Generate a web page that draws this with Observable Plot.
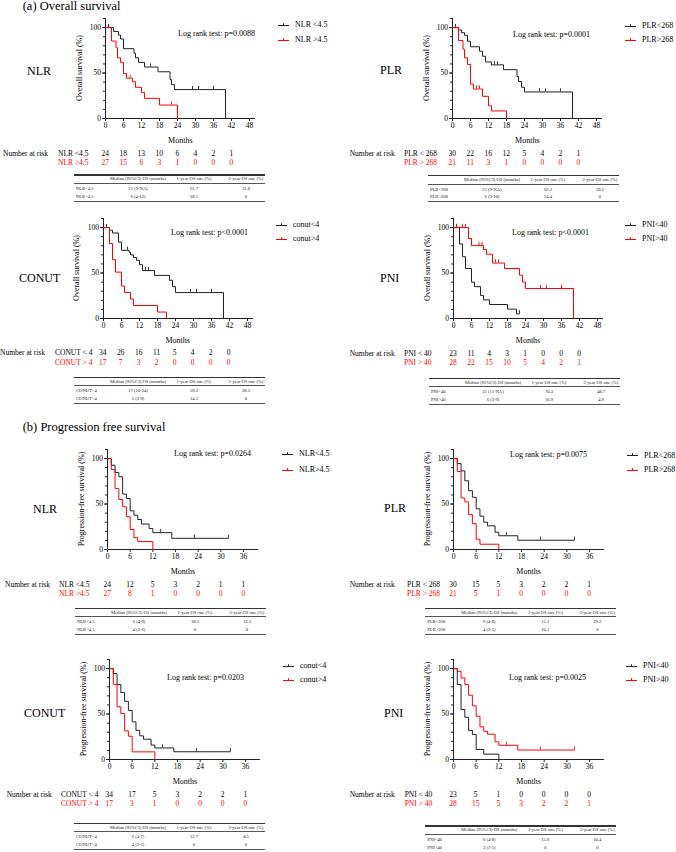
<!DOCTYPE html>
<html><head><meta charset="utf-8">
<script src="https://cdn.jsdelivr.net/npm/d3@7"></script>
<script src="https://cdn.jsdelivr.net/npm/@observablehq/plot@0.6"></script>
<style>
body{margin:0;background:#fff;}
#root{position:relative;width:676px;height:852px;font-family:"Liberation Serif","Times New Roman",serif;color:#000;overflow:hidden;background:#fff}
.t{position:absolute;white-space:nowrap;line-height:1}
.ln{position:absolute}
</style></head><body><div id="root"></div><script>
// ---------- DATA ----------
const OS_TICKS = [0,6,12,18,24,30,36,42,48];
const PFS_TICKS = [0,6,12,18,24,30,36];
const OS_RISK_T = [0,6,12,18,24,30,36,42];
const PFS_RISK_T = [0,6,12,18,24,30,36];
const tableHeader = ["Median (95%CI) OS (months)","1-year OS rate (%)","2-year OS rate (%)"];

// Overall survival curves: [month, survival %]
const osNlrLow  = [[0,100],[2.7,95.8],[4.3,91.7],[5,87.5],[6,76.8],[9.5,71.9],[10,66.8],[11,61.7],[13,56.6],[17.5,51.4],[21.5,43],[22,37.2],[23,31.8],[40,0]];
const osNlrHigh = [[0,100],[2,85.2],[3.5,77.8],[4,66.7],[5,61.8],[6,49.4],[7,44.4],[9,40.4],[10,34.3],[12,28.5],[13,22.2],[18,14.8],[24,0]];
const osNlrLowCens  = [[1,100],[15,56.6],[29,31.8],[31,31.8],[36,31.8]];
const osNlrHighCens = [[8.2,44.4],[22,14.8]];

const osPlrLow  = [[0,100],[2,97.4],[3,94.4],[4,91.5],[5,85],[6,78.9],[9,74],[10,68.5],[11,62.2],[13,59],[17,53.7],[21.5,46.3],[22,40.7],[23,34.4],[24,29.2],[40,0]];
const osPlrHigh = [[0,100],[2,85.7],[3.5,76.2],[4,66.7],[5,59.5],[6,37.8],[7,32.4],[10,24.4],[12,13.9],[13,8.3],[18,0]];
const osPlrLowCens  = [[1,100],[14,59],[15,59],[29,29.2],[31,29.2],[36,29.2]];
const osPlrHighCens = [[8,32.4],[9,32.4]];

const osConutLow  = [[0,100],[2,97.1],[3,94.1],[5,84],[6,75],[8.5,73],[9,70],[10,67],[11,64],[12,59.2],[13,52.7],[17,47.4],[22,42],[23,35],[24,28.5],[40,0]];
const osConutHigh = [[0,100],[2,82.4],[3,64.7],[4,51],[6,35.7],[7,28.6],[9,21.4],[10,14.3],[18,7.1],[21,0]];
const osConutLowCens  = [[1,100],[8,75],[14,52.7],[15,52.7],[29,28.5],[31,28.5],[36,28.5]];
const osConutHighCens = [];

const osPniLow  = [[0,100],[2,82],[3,68],[4,55],[6,40],[7,35],[9,25.4],[10,20.5],[12,15.4],[18,10.3],[21,5.1],[22,5.1]];
const osPniHigh = [[0,100],[5,88],[6,80.2],[10,75.8],[11,70.7],[13,61],[17,55],[22,47.6],[23,40.2],[24,33],[40,0]];
const osPniLowCens  = [[1,100],[22,5.1]];
const osPniHighCens = [[1,100],[3,100],[4,100],[8.5,80.2],[9.5,80.2],[14,61],[15,61],[29,33],[31,33],[36,33]];

// Progression-free survival curves
const pfsNlrLow  = [[0,100],[1,92.7],[2,84.6],[3,80],[4,61],[5,56],[6,42.5],[7,37.7],[8,33],[9,28],[11,23],[12,18.5],[17,12.3],[32,12.3]];
const pfsNlrHigh = [[0,100],[1,88],[2,67],[3,55],[4,47],[5,36],[6,22],[7,13],[8,8.7],[12,0]];
const pfsNlrLowCens  = [[14,18.5],[23,12.3],[32,12.3]];
const pfsNlrHighCens = [];

const pfsPlrLow  = [[0,100],[1,94.5],[2,86.5],[3,75.6],[4,64.7],[5,57.5],[6,44.7],[7,36.7],[8,30],[9,26],[11,19],[12,15.1],[17,10.2],[32,10.2]];
const pfsPlrHigh = [[0,100],[1,85.8],[2,56.7],[3,52.4],[4,38.5],[5,28.4],[6,11.3],[7,5.8],[12,0]];
const pfsPlrLowCens  = [[14,15.1],[23,10.2],[32,10.2]];
const pfsPlrHighCens = [];

const pfsConutLow  = [[0,100],[1,94.5],[2,82.4],[3,73.6],[4,64],[5,54],[6,41.4],[7,32],[8,26],[9,22.3],[11,15.8],[12,12.7],[17,8.5],[32,8.5]];
const pfsConutHigh = [[0,100],[1,82.4],[2,58],[3,50.5],[4,31.5],[5,25.6],[6,8.4],[12,0]];
const pfsConutLowCens  = [[14,12.7],[23,8.5],[32,8.5]];
const pfsConutHighCens = [];

const pfsPniLow  = [[0,100],[1,82.4],[2,55],[3,46.5],[4,32],[5,27.5],[6,11],[8,5.9],[12,0]];
const pfsPniHigh = [[0,100],[1,97],[2,89.7],[3,82.4],[4,70.7],[5,59],[6,47.6],[7,35.9],[8,31],[9,27.8],[11,19.4],[12,15.6],[17,10.4],[32,10.4]];
const pfsPniLowCens  = [];
const pfsPniHighCens = [[14,15.6],[23,10.4],[32,10.4]];

// Numbers at risk
const osNlrRisk = [[24,18,13,10,6,4,2,1],[27,15,6,3,1,0,0,0]];
const osPlrRisk = [[30,22,16,12,5,4,2,1],[21,11,3,1,0,0,0,0]];
const osConutRisk = [[34,26,16,11,5,4,2,0],[17,7,3,2,0,0,0,0]];
const osPniRisk = [[23,11,4,3,1,0,0,0],[28,22,15,10,5,4,2,1]];
const pfsNlrRisk = [[24,12,5,3,2,1,1],[27,8,1,0,0,0,0]];
const pfsPlrRisk = [[30,15,5,3,2,2,1],[21,5,1,0,0,0,0]];
const pfsConutRisk = [[34,17,5,3,2,2,1],[17,3,1,0,0,0,0]];
const pfsPniRisk = [[23,5,1,0,0,0,0],[28,15,5,3,2,2,1]];

// Tables
const osNlrTable = [["NLR<4.5","21  (9-NA)","61.7","31.8"],["NLR>4.5","6  (4-12)","28.5","0"]];
const osPlrTable = [["PLR<268","21  (9-NA)","62.2","29.2"],["PLR>268","6  (3-10)","24.4","0"]];
const osConutTable = [["CONUT<4","17  (10-24)","59.2","28.5"],["CONUT>4","5  (3-9)","14.3","0"]];
const osPniTable = [["PNI<40","22  (11-NA)","70.3","48.7"],["PNI>40","6  (3-9)","16.9","4.9"]];
const pfsNlrTable = [["NLR<4.5","6  (4-9)","18.5","12.3"],["NLR>4.5","4  (2-6)","0","0"]];
const pfsPlrTable = [["PLR<268","6  (4-8)","15.1","29.2"],["PLR>268","4  (2-5)","10.1","0"]];
const pfsConutTable = [["CONUT<4","6  (4-7)","12.7","8.5"],["CONUT>4","4  (2-5)","0","0"]];
const pfsPniTable = [["PNI<40","6  (4-8)","15.6","10.4"],["PNI>40","3  (2-5)","0","0"]];

// ---------- LAYOUT ----------
const RED = "#ff0000", BLK = "#222222";
const COLORS = [BLK, RED];
const root = document.getElementById("root");

function txt(s, x, y, o = {}) {
  const d = document.createElement("div");
  d.className = "t";
  d.textContent = s;
  d.style.left = x + "px";
  d.style.top = y + "px";
  d.style.fontSize = (o.size || 8) + "px";
  if (o.color) d.style.color = o.color;
  const tx = o.anchor === "middle" ? "-50%" : o.anchor === "end" ? "-100%" : "0";
  d.style.transform = o.rotate ? `translate(-50%,-50%) rotate(${o.rotate}deg)` : `translate(${tx},-50%)`;
  root.appendChild(d);
}
function hline(x, y, w, h, c) {
  const d = document.createElement("div");
  d.className = "ln";
  d.style.left = x + "px"; d.style.top = (y - h / 2) + "px";
  d.style.width = w + "px"; d.style.height = h + "px"; d.style.background = c;
  root.appendChild(d);
}
function legendMark(x, y, color) {
  const ns = "http://www.w3.org/2000/svg";
  const s = document.createElementNS(ns, "svg");
  s.setAttribute("width", 12); s.setAttribute("height", 6);
  s.style.position = "absolute"; s.style.left = x + "px"; s.style.top = (y - 3.5) + "px";
  const l = document.createElementNS(ns, "path");
  l.setAttribute("d", "M0,3.5H11M5.5,1.2V3.5");
  l.setAttribute("stroke", color); l.setAttribute("stroke-width", "1"); l.setAttribute("fill", "none");
  s.appendChild(l);
  root.appendChild(s);
}

const panels = [
  {ox:105.3, oy:118.3, os:true, name:"NLR", nameX:27, nameY:71, legX:278, legY:[25,40], leg:["NLR <4.5","NLR >4.5"], lr:"Log rank test: p=0.0088", lrX:178, lrY:34, nrX:3, serX:58, rY:[154,163], ser:["NLR <4.5","NLR >4.5"], tX:74, tY:175, curves:[osNlrLow,osNlrHigh], cens:[osNlrLowCens,osNlrHighCens], risk:osNlrRisk, table:osNlrTable},
  {ox:452.3, oy:118.3, os:true, name:"PLR", nameX:380, nameY:70, legX:625, legY:[26,40], leg:["PLR<268","PLR>268"], lr:"Log rank test: p=0.0001", lrX:513, lrY:35, nrX:349.7, serX:404, rY:[154,163], ser:["PLR  < 268","PLR  > 268"], tX:428, tY:175.7, curves:[osPlrLow,osPlrHigh], cens:[osPlrLowCens,osPlrHighCens], risk:osPlrRisk, table:osPlrTable},
  {ox:102.7, oy:318, os:true, name:"CONUT", nameX:19, nameY:278, legX:276, legY:[225,239.3], leg:["conut<4","conut>4"], lr:"Log rank test: p<0.0001", lrX:171, lrY:233.3, nrX:0, serX:55, rY:[353.3,363.3], ser:["CONUT < 4","CONUT > 4"], tX:74, tY:377.3, curves:[osConutLow,osConutHigh], cens:[osConutLowCens,osConutHighCens], risk:osConutRisk, table:osConutTable},
  {ox:453, oy:318.3, os:true, name:"PNI", nameX:380, nameY:278, legX:625, legY:[225,239.3], leg:["PNI<40","PNI>40"], lr:"Log rank test: p<0.0001", lrX:512, lrY:233.3, nrX:349.7, serX:404, rY:[354,363.3], ser:["PNI < 40","PNI > 40"], tX:429, tY:378.3, curves:[osPniLow,osPniHigh], cens:[osPniLowCens,osPniHighCens], risk:osPniRisk, table:osPniTable},
  {ox:107.3, oy:549.3, os:false, name:"NLR", nameX:33, nameY:509, legX:282, legY:[454.3,470], leg:["NLR<4.5","NLR>4.5"], lr:"Log rank test: p=0.0264", lrX:174, lrY:454.3, nrX:5, serX:59, rY:[585,594], ser:["NLR <4.5","NLR >4.5"], tX:75, tY:608.3, curves:[pfsNlrLow,pfsNlrHigh], cens:[pfsNlrLowCens,pfsNlrHighCens], risk:pfsNlrRisk, table:pfsNlrTable},
  {ox:453, oy:549.3, os:false, name:"PLR", nameX:384, nameY:508, legX:627, legY:[455.7,470], leg:["PLR<268","PLR>268"], lr:"Log rank test: p=0.0075", lrX:510, lrY:455, nrX:349.7, serX:407, rY:[585,594.3], ser:["PLR  < 268","PLR  > 268"], tX:425.3, tY:608.3, curves:[pfsPlrLow,pfsPlrHigh], cens:[pfsPlrLowCens,pfsPlrHighCens], risk:pfsPlrRisk, table:pfsPlrTable},
  {ox:109.3, oy:759.3, os:false, name:"CONUT", nameX:24, nameY:713, legX:283, legY:[666,680], leg:["conut<4","conut>4"], lr:"Log rank test: p=0.0203", lrX:167, lrY:678.3, nrX:6.7, serX:61, rY:[795,804.3], ser:["CONUT < 4","CONUT > 4"], tX:74, tY:823.3, curves:[pfsConutLow,pfsConutHigh], cens:[pfsConutLowCens,pfsConutHighCens], risk:pfsConutRisk, table:pfsConutTable},
  {ox:453, oy:759.3, os:false, name:"PNI", nameX:384, nameY:713, legX:626, legY:[666,680], leg:["PNI<40","PNI>40"], lr:"Log rank test: p=0.0025", lrX:509, lrY:678.3, nrX:349.7, serX:404.7, rY:[795,804.3], ser:["PNI < 40","PNI > 40"], tX:425.3, tY:826, curves:[pfsPniLow,pfsPniHigh], cens:[pfsPniLowCens,pfsPniHighCens], risk:pfsPniRisk, table:pfsPniTable}
];

txt("(a) Overall survival", 22.7, 5.8, {size: 12.5});
txt("(b) Progression free survival", 22.7, 426.8, {size: 12.5});

for (const p of panels) {
  const mL = 32, mR = 6, mT = 4, mB = 16;
  const xw = p.os ? 150 : 151.2, yh = 100;
  const xMax = p.os ? 50 : 40;
  const ticks = p.os ? OS_TICKS : PFS_TICKS;
  const marks = [
    Plot.ruleY([0], {stroke: BLK, strokeWidth: 1}),
    Plot.ruleX([0], {stroke: BLK, strokeWidth: 1}),
    Plot.axisX({ticks, tickSize: 3, tickPadding: 1.5, label: null, fontSize: 7.5, stroke: BLK}),
    Plot.axisY({ticks: [0, 50, 100], tickSize: 3, tickPadding: 1.5, label: null, fontSize: 7.5, stroke: BLK}),
    Plot.axisY({ticks: d3.range(0, 111, 10), tickSize: 2, tickFormat: () => "", label: null, stroke: BLK})
  ];
  p.curves.forEach((c, i) => {
    marks.push(Plot.line(c, {x: d => d[0], y: d => d[1], curve: "step-after", stroke: COLORS[i], strokeWidth: 1}));
    marks.push(Plot.ruleX(p.cens[i], {x: d => d[0], y1: d => d[1], y2: d => d[1] + 3.5, stroke: COLORS[i], strokeWidth: 0.9}));
  });
  const svg = Plot.plot({
    width: mL + xw + mR, height: mT + yh + mB,
    marginLeft: mL, marginRight: mR, marginTop: mT, marginBottom: mB,
    x: {domain: [0, xMax]}, y: {domain: [0, 110]},
    style: {fontFamily: "Liberation Serif, serif", fontSize: "7.5px", background: "transparent", overflow: "visible", color: "#000"},
    marks
  });
  const left = p.ox - mL, top = p.oy - yh - mT;
  svg.style.position = "absolute";
  svg.style.left = left + "px";
  svg.style.top = top + "px";
  svg.style.maxWidth = "none";
  root.appendChild(svg);
  const xs = svg.scale("x"), ys = svg.scale("y");

  // labels
  txt("Months", left + xs.apply(xMax / 2), p.oy + 23, {size: 8, anchor: "middle"});
  txt(p.os ? "Overall survival (%)" : "Progression-free survival (%)", p.ox - 25.5, top + ys.apply(55), {size: 8, rotate: -90});
  txt(p.name, p.nameX, p.nameY, {size: 12});
  txt(p.lr, p.lrX, p.lrY, {size: 8});
  p.leg.forEach((l, i) => {
    legendMark(p.legX, p.legY[i], COLORS[i]);
    txt(l, p.legX + 17, p.legY[i], {size: 8});
  });

  // numbers at risk
  const rt = p.os ? OS_RISK_T : PFS_RISK_T;
  txt("Number at risk", p.nrX, p.rY[0], {size: 7.5});
  p.risk.forEach((row, i) => {
    const col = i ? RED : "#000";
    txt(p.ser[i], p.serX, p.rY[i], {size: 7.5, color: col});
    row.forEach((v, j) => txt(String(v), left + xs.apply(rt[j]), p.rY[i], {size: 7.5, color: col, anchor: "middle"}));
  });

  // summary table
  const W = 191, tx = p.tX, ty = p.tY;
  const colX = [tx + 2, tx + 64, tx + 120, tx + 172];
  hline(tx, ty, W, 1.1, "#333");
  tableHeader.forEach((h, k) => txt(h, colX[k + 1], ty + 4.4, {size: 4.6, anchor: "middle", color: "#222"}));
  hline(tx, ty + 8.3, W, 0.6, "#555");
  p.table.forEach((r, i) => {
    const yy = ty + 13.8 + i * 7.8;
    r.forEach((v, k) => txt(v, colX[k], yy, {size: 4.6, anchor: k ? "middle" : "start", color: "#222"}));
  });
  hline(tx, ty + 26, W, 0.8, "#555");
}
</script></body></html>
